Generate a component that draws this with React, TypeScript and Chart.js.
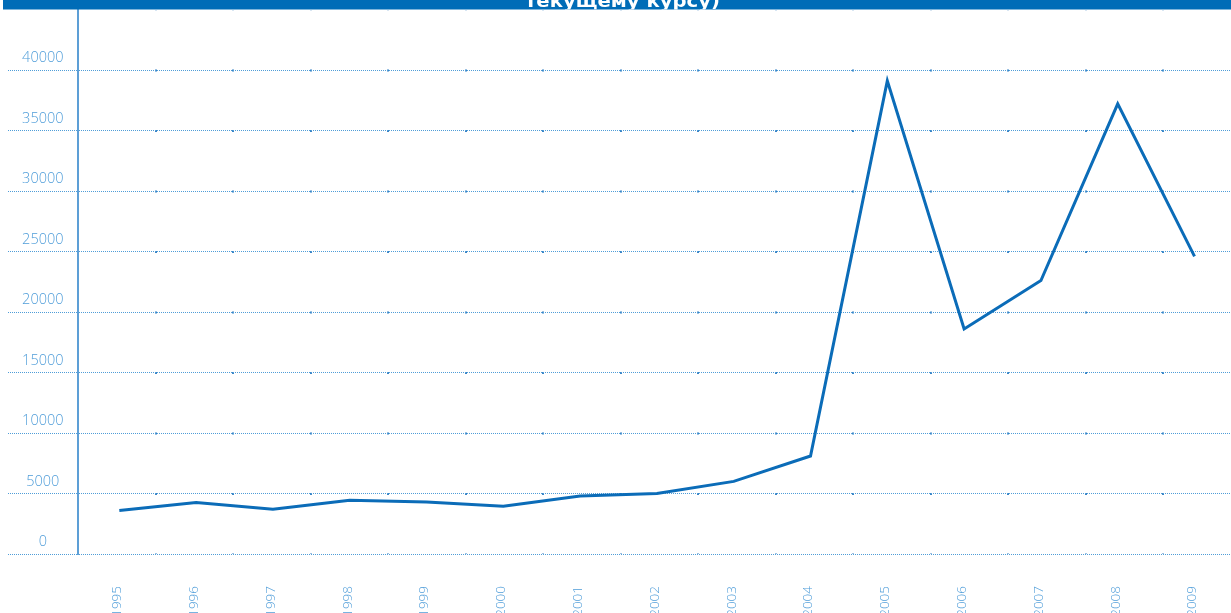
import React, { useEffect, useRef } from 'react';
import { Chart, registerables } from 'chart.js';

Chart.register(...registerables);

const years = ['1995', '1996', '1997', '1998', '1999', '2000', '2001', '2002', '2003', '2004', '2005', '2006', '2007', '2008', '2009'];
const values = [3600, 4250, 3700, 4450, 4300, 3950, 4800, 5000, 6000, 8100, 39100, 18600, 22600, 37200, 24600];
const yTickValues = [0, 5000, 10000, 15000, 20000, 25000, 30000, 35000, 40000];
const yMax = 45000;
const titleText = 'текущему курсу)';

const gridColor = '#4f9dd8';
const labelColor = '#4f9dd9';
const lineColor = '#0b6cb8';
const barColor = '#006cb7';

export default function App() {
  const ref = useRef<HTMLCanvasElement>(null);

  useEffect(() => {
    if (!ref.current) return;

    const titleBar = {
      id: 'titleBar',
      afterDraw(chart: any) {
        const ctx = chart.ctx as CanvasRenderingContext2D;
        ctx.save();
        ctx.fillStyle = '#ffffff';
        ctx.fillRect(80, 9, 1151, 1.8);
        ctx.fillStyle = barColor;
        ctx.fillRect(3, 0, 1228, 9.5);
        ctx.beginPath();
        ctx.rect(3, 0, 1228, 9.5);
        ctx.clip();
        ctx.font = 'bold 18px "DejaVu Sans Condensed", "DejaVu Sans", sans-serif';
        const w = ctx.measureText(titleText).width;
        ctx.translate(622.5, 7.3);
        ctx.scale(195 / w, 1);
        ctx.textAlign = 'center';
        ctx.textBaseline = 'alphabetic';
        ctx.fillStyle = '#ffffff';
        ctx.fillText(titleText, 0, 0);
        ctx.restore();
      },
    };

    const hideTop = (c: any) => (c.tick && c.tick.value === yMax ? 'rgba(0,0,0,0)' : gridColor);

    const chart = new Chart(ref.current, {
      type: 'line',
      data: {
        datasets: [
          {
            data: values.map((v, i) => ({ x: i, y: v })),
            xAxisID: 'x',
            yAxisID: 'y',
            borderColor: lineColor,
            borderWidth: 3,
            pointRadius: 0,
            pointHoverRadius: 0,
            tension: 0,
            fill: false,
          },
        ],
      },
      options: {
        animation: false,
        responsive: false,
        maintainAspectRatio: false,
        layout: { padding: { left: 8, top: 9.5, right: 0, bottom: 0 } },
        plugins: {
          legend: { display: false },
          title: { display: false },
          tooltip: { enabled: false },
        },
        scales: {
          x: {
            type: 'linear',
            position: 'bottom',
            min: -0.538,
            max: 14.475,
            afterBuildTicks: (axis: any) => {
              axis.ticks = years.map((_, i) => ({ value: i }));
            },
            afterFit: (axis: any) => {
              axis.height = 59;
              axis.paddingLeft = 0;
              axis.paddingRight = 0;
            },
            grid: { display: false, drawTicks: false },
            border: { display: false },
            ticks: {
              autoSkip: false,
              minRotation: 90,
              maxRotation: 90,
              padding: 32,
              labelOffset: -2,
              color: labelColor,
              font: { family: '"Open Sans", sans-serif', size: 13.5, weight: 300 as any },
              callback: (v: any) => years[v] ?? '',
            },
          },
          x2: {
            type: 'linear',
            position: 'top',
            min: 0,
            max: 1153 / 77.5,
            afterBuildTicks: (axis: any) => {
              axis.ticks = Array.from({ length: 14 }, (_, i) => ({ value: i + 1 }));
            },
            afterFit: (axis: any) => {
              axis.height = 0;
              axis.paddingLeft = 0;
              axis.paddingRight = 0;
            },
            grid: { drawTicks: false, color: 'rgba(25,112,188,0.85)', lineWidth: 2 },
            border: { display: false, dash: [2, 58.5], dashOffset: 1 },
            ticks: { display: false },
          },
          y: {
            type: 'linear',
            min: 0,
            max: yMax,
            afterBuildTicks: (axis: any) => {
              axis.ticks = [...yTickValues, yMax].map((v) => ({ value: v }));
            },
            afterFit: (axis: any) => {
              axis.width = 70;
              axis.paddingTop = 0;
              axis.paddingBottom = 0;
            },
            grid: {
              color: hideTop,
              lineWidth: 1,
              tickLength: 70,
              tickColor: hideTop,
              tickWidth: 1,
              tickBorderDash: [1, 1],
            },
            border: { display: true, color: '#5d9fd6', width: 2, dash: [1, 1] },
            ticks: {
              padding: -55.5,
              crossAlign: 'center',
              labelOffset: -12,
              color: labelColor,
              font: { family: '"Open Sans", sans-serif', size: 14.5, weight: 300 as any },
              callback: (v: any) => (v === yMax ? '' : String(v)),
            },
          },
        },
      },
      plugins: [titleBar],
    } as any);

    return () => chart.destroy();
  }, []);

  return (
    <div style={{ position: 'absolute', left: 0, top: 0, width: 1231, height: 613, overflow: 'hidden', background: '#fff' }}>
      <canvas ref={ref} width={1231} height={613} style={{ display: 'block' }} />
    </div>
  );
}
